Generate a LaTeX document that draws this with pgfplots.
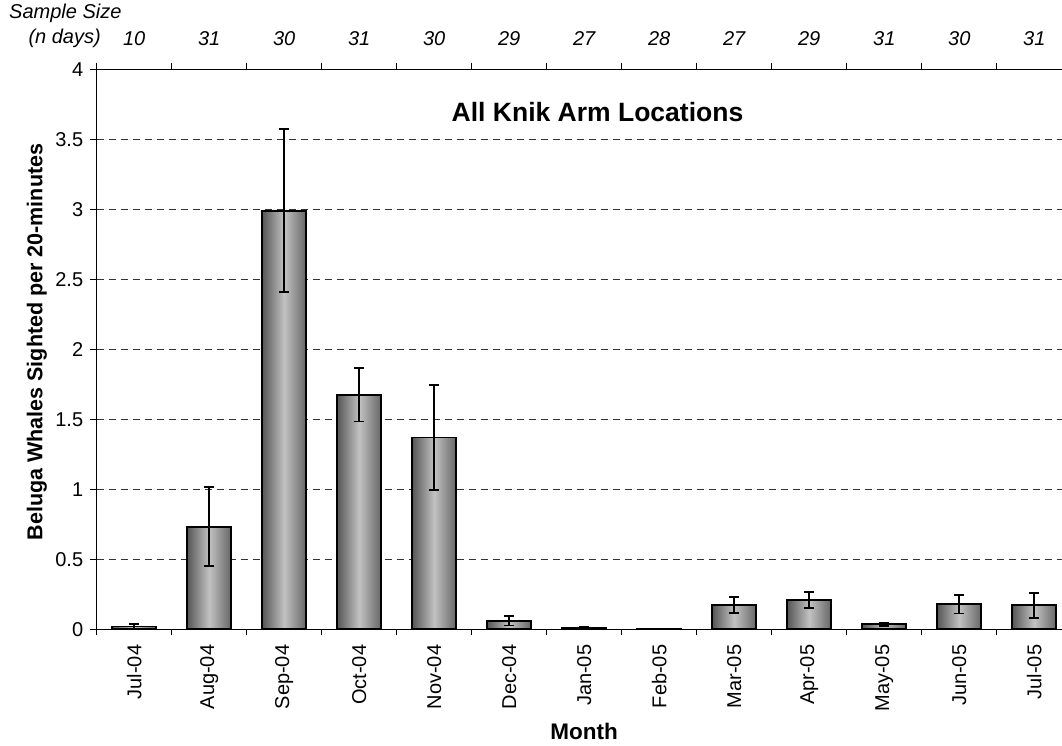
\documentclass[border=0pt]{standalone}
\usepackage{fontspec}
\setmainfont{Liberation Sans}
\usepackage{pgfplots}
\usepackage{pgfplotstable}
\pgfplotsset{compat=1.18}
\newcommand\fs{\fontsize{20}{24}\selectfont}
\pgfplotstableread{
x y e
0 0.02 0.02
1 0.733 0.283
2 2.99 0.583
3 1.674 0.19
4 1.37 0.375
5 0.06 0.033
6 0.012 0.006
7 0.003 0.001
8 0.174 0.057
9 0.211 0.058
10 0.036 0.012
11 0.179 0.066
12 0.171 0.088
}\data
\pgfplotsset{mybar/.style={ybar, bar width=44pt, bar shift=0pt, draw=black, line width=1.8pt,
  left color=black!66, right color=black!60, middle color=black!24}}
\begin{document}
\begin{tikzpicture}[x=1pt,y=1pt]
\useasboundingbox (0,0) rectangle (1062,746);
\begin{axis}[
  at={(96.7pt,116.7pt)}, anchor=south west,
  scale only axis, width=965.3pt, height=560pt,
  xmin=-0.5, xmax=12.37, ymin=0, ymax=4,
  axis x line*=bottom, axis y line*=left,
  axis line style={-, black, line width=1pt},
  every outer x axis line/.append style={-},
  every outer y axis line/.append style={-},
  xtick align=outside, ytick align=outside,
  xtick={0,...,12},
  xticklabels={Jul-04,Aug-04,Sep-04,Oct-04,Nov-04,Dec-04,Jan-05,Feb-05,Mar-05,Apr-05,May-05,Jun-05,Jul-05},
  major x tick style={draw=none},
  minor xtick={-0.5,0.5,...,11.5},
  minor x tick style={black, line width=1pt},
  minor tick length=6pt,
  major tick length=7pt,
  ytick={0,0.5,...,4},
  y tick style={black, line width=1pt},
  /pgf/number format/assume math mode=true,
  yticklabel style={font=\fs, xshift=-3pt},
  xticklabel style={font=\fs, yshift=-5pt, rotate=90, anchor=east},
  ymajorgrids,
  grid style={dash pattern=on 7pt off 5pt, black!80, line width=0.8pt},
  xlabel={Month},
  x label style={font=\bfseries\fontsize{22.5}{27}\selectfont, at={(axis cs:6,0)}, anchor=base, yshift=-110pt},
  ylabel={Beluga Whales Sighted per 20-minutes},
  y label style={font=\bfseries\fontsize{21.5}{26}\selectfont, at={(axis description cs:-0.062,0.513)}, anchor=center},
]
\addplot[mybar] coordinates {(0,0.02)};
\addplot[mybar] coordinates {(1,0.733)};
\addplot[mybar] coordinates {(2,2.99)};
\addplot[mybar] coordinates {(3,1.674)};
\addplot[mybar] coordinates {(4,1.37)};
\addplot[mybar] coordinates {(5,0.06)};
\addplot[mybar] coordinates {(6,0.012)};
\addplot[mybar] coordinates {(7,0.003)};
\addplot[mybar] coordinates {(8,0.174)};
\addplot[mybar] coordinates {(9,0.211)};
\addplot[mybar] coordinates {(10,0.036)};
\addplot[mybar] coordinates {(11,0.179)};
\addplot[mybar] coordinates {(12,0.171)};
\addplot[forget plot, draw=none, mark=none,
  error bars/.cd, y dir=both, y explicit,
  error bar style={draw=black, solid, line width=1.8pt},
  error mark options={draw=black, rotate=90, mark size=5pt, line width=1.8pt}]
  table[x=x, y=y, y error=e] {\data};
\node[font=\bfseries\fontsize{26.5}{31}\selectfont, anchor=base] at (axis cs:6.177,3.626) {All Knik Arm Locations};
\end{axis}
\begin{axis}[
  at={(96.7pt,116.7pt)}, anchor=south west,
  scale only axis, width=965.3pt, height=560pt,
  xmin=-0.5, xmax=12.37, ymin=0, ymax=4,
  axis x line*=top, axis y line=none,
  axis line style={-, black, line width=1pt},
  every outer x axis line/.append style={-},
  xtick align=outside,
  xtick={0,...,12},
  xticklabels={10,31,30,31,30,29,27,28,27,29,31,30,31},
  major x tick style={draw=none},
  minor xtick={-0.5,0.5,...,11.5},
  minor x tick style={black, line width=1pt},
  minor tick length=6.6pt,
  xticklabel style={font=\itshape\fs, yshift=16pt},
]
\end{axis}
\node[anchor=base west, font=\itshape\fs, inner sep=0pt] at (9,727.5) {Sample Size};
\node[anchor=base east, font=\itshape\fs, inner sep=0pt] at (101,702.7) {(n days)};
\end{tikzpicture}
\end{document}
